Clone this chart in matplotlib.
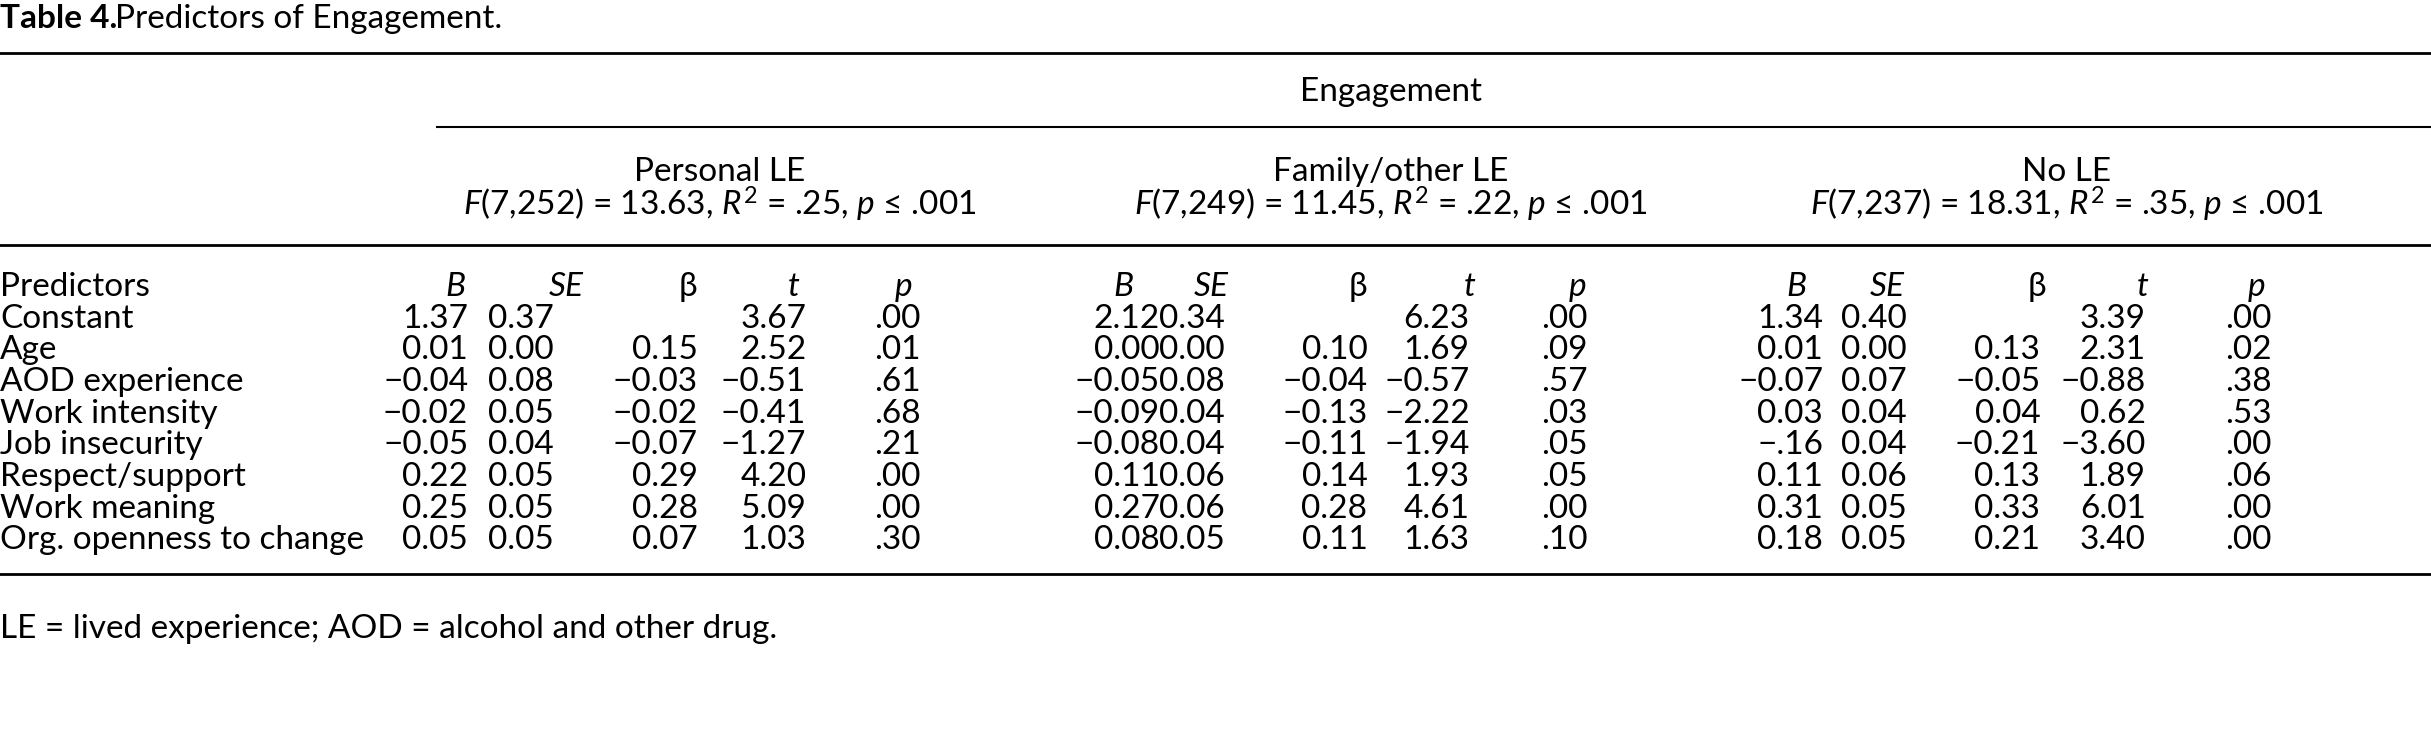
import matplotlib
matplotlib.use("Agg")
import matplotlib.pyplot as plt

plt.rcParams['font.family'] = ['Lato', 'DejaVu Sans']
plt.rcParams['mathtext.fontset'] = 'custom'
plt.rcParams['mathtext.rm'] = 'Lato'
plt.rcParams['mathtext.it'] = 'Lato:italic'

title_bold = "Table 4."
title_rest = "Predictors of Engagement."
groups = ["Personal LE", "Family/other LE", "No LE"]
group_stats = [r"$F$(7,252) = 13.63, $R^2$ = .25, $p$ ≤ .001",
               r"$F$(7,249) = 11.45, $R^2$ = .22, $p$ ≤ .001",
               r"$F$(7,237) = 18.31, $R^2$ = .35, $p$ ≤ .001"]
col_heads = ["B", "SE", "β", "t", "p"]
predictors = ["Constant", "Age", "AOD experience", "Work intensity", "Job insecurity",
              "Respect/support", "Work meaning", "Org. openness to change"]
personal = [
    ["1.37", "0.37", "", "3.67", ".00"],
    ["0.01", "0.00", "0.15", "2.52", ".01"],
    ["−0.04", "0.08", "−0.03", "−0.51", ".61"],
    ["−0.02", "0.05", "−0.02", "−0.41", ".68"],
    ["−0.05", "0.04", "−0.07", "−1.27", ".21"],
    ["0.22", "0.05", "0.29", "4.20", ".00"],
    ["0.25", "0.05", "0.28", "5.09", ".00"],
    ["0.05", "0.05", "0.07", "1.03", ".30"],
]
family = [
    ["2.12", "0.34", "", "6.23", ".00"],
    ["0.00", "0.00", "0.10", "1.69", ".09"],
    ["−0.05", "0.08", "−0.04", "−0.57", ".57"],
    ["−0.09", "0.04", "−0.13", "−2.22", ".03"],
    ["−0.08", "0.04", "−0.11", "−1.94", ".05"],
    ["0.11", "0.06", "0.14", "1.93", ".05"],
    ["0.27", "0.06", "0.28", "4.61", ".00"],
    ["0.08", "0.05", "0.11", "1.63", ".10"],
]
no_le = [
    ["1.34", "0.40", "", "3.39", ".00"],
    ["0.01", "0.00", "0.13", "2.31", ".02"],
    ["−0.07", "0.07", "−0.05", "−0.88", ".38"],
    ["0.03", "0.04", "0.04", "0.62", ".53"],
    ["−.16", "0.04", "−0.21", "−3.60", ".00"],
    ["0.11", "0.06", "0.13", "1.89", ".06"],
    ["0.31", "0.05", "0.33", "6.01", ".00"],
    ["0.18", "0.05", "0.21", "3.40", ".00"],
]
footnote = "LE = lived experience; AOD = alcohol and other drug."

W, H = 1568, 471
fig = plt.figure(figsize=(24.31, 7.31), dpi=100)
ax = fig.add_axes([0, 0, 1, 1])
ax.set_xlim(0, W)
ax.set_ylim(H, 0)
ax.axis('off')
fs = 24

ax.text(0, 12, title_bold, fontsize=fs, fontweight='bold', va='center')
ax.text(74, 12, title_rest, fontsize=fs, va='center')
ax.plot([0, W], [34, 34], color='black', lw=2)
ax.text(897, 59, "Engagement", fontsize=fs, ha='center', va='center')
ax.plot([282, W], [82, 82], color='black', lw=1.5)
ax.plot([0, W], [158, 158], color='black', lw=2)
ax.plot([0, W], [370, 370], color='black', lw=2)

centers = [464, 897, 1333]
for g, s, cx in zip(groups, group_stats, centers):
    ax.text(cx, 111, g, fontsize=fs, ha='center', va='center')
    ax.text(cx, 132, s, fontsize=fs, ha='center', va='center')

head_x = [[287, 354, 438, 508, 577], [718, 770, 870, 944, 1012], [1152, 1206, 1308, 1378, 1450]]
val_right = [[302, 357, 450, 520, 594], [748, 790, 882, 948, 1024], [1176, 1230, 1316, 1384, 1465]]
row_y0, row_dy = 185, 20.4
ax.text(0, row_y0, "Predictors", fontsize=fs, va='center')
for hx in head_x:
    for h, x in zip(col_heads, hx):
        style = 'normal' if h == "β" else 'italic'
        ax.text(x, row_y0, h, fontsize=fs, style=style, va='center')

for i, name in enumerate(predictors):
    y = row_y0 + row_dy * (i + 1)
    ax.text(0, y, name, fontsize=fs, va='center')
    for data, xr in zip([personal, family, no_le], val_right):
        for v, x in zip(data[i], xr):
            ax.text(x, y, v, fontsize=fs, ha='right', va='center')

ax.text(0, 405, footnote, fontsize=fs, va='center')

fig.savefig("out.png", dpi=100)
